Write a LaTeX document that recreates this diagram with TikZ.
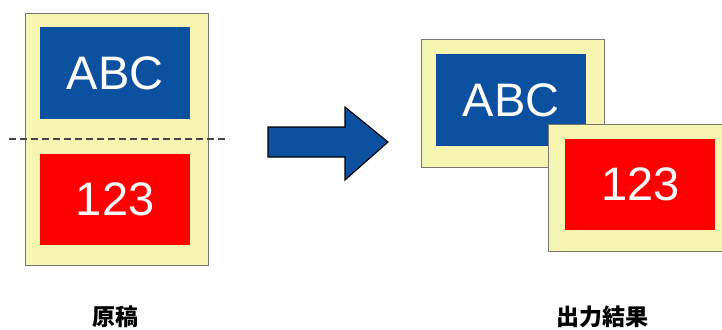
\documentclass[tikz,border=0pt]{standalone}
\usepackage{fontspec}
\setmainfont{Liberation Sans}
\newfontfamily\cjkfont{Noto Sans CJK JP}
\usepackage{tikz}
\usetikzlibrary{arrows.meta, positioning, calc}
\definecolor{pageyellow}{RGB}{246,246,178}
\definecolor{pageedge}{RGB}{120,120,110}
\definecolor{boxblue}{RGB}{12,80,160}
\definecolor{boxred}{RGB}{255,0,0}
\definecolor{cutgray}{RGB}{70,70,70}
\tikzset{
  page/.style={
    rectangle, draw=pageedge, line width=0.9pt, fill=pageyellow,
    anchor=north west, inner sep=0pt
  },
  bluebox/.style={
    rectangle, draw=none, fill=boxblue, text=white, anchor=north west,
    inner sep=0pt, minimum width=150pt, minimum height=92pt,
    font=\fontsize{47}{50}\selectfont
  },
  redbox/.style={
    rectangle, draw=none, fill=boxred, text=white, anchor=north west,
    inner sep=0pt, minimum width=150pt, minimum height=91pt,
    font=\fontsize{47}{50}\selectfont
  },
  caption/.style={
    font=\cjkfont\bfseries\fontsize{23}{26}\selectfont, inner sep=0pt
  },
  bigarrow/.style={draw=black, line width=1.1pt, fill=boxblue, line join=miter},
  cutline/.style={draw=cutgray, line width=1.6pt, dash pattern=on 7pt off 4pt}
}
\begin{document}
\begin{tikzpicture}[x=1pt, y=-1pt]
\useasboundingbox (0,0) rectangle (722,329);
\clip (0,0) rectangle (722,329);

% -------- ORIGINAL (left) --------
\node[page, minimum width=183pt, minimum height=252pt] (orig) at (25,13) {};
\node[bluebox] (origabc) at (40,27) {ABC};
\node[redbox] (orig123) at (40,154) {123};
\coordinate (cutL) at (9,139);
\coordinate (cutR) at (229,139);
\draw[cutline] (cutL) -- (cutR);

% -------- ARROW --------
\draw[bigarrow] (268,127) -- (345,127) -- (345,107) -- (388,142)
  -- (345,180) -- (345,157) -- (268,157) -- cycle;

% -------- OUTPUT (right) --------
\node[page, minimum width=183pt, minimum height=128pt] (outa) at (421,39) {};
\node[bluebox] (outabc) at (436,54) {ABC};
\node[page, minimum width=183pt, minimum height=127pt] (outb) at (548,124) {};
\node[redbox] (out123) at (565,139) {123};

% -------- CAPTIONS --------
\node[caption] (capL) at (115,317) {原稿};
\node[caption] (capR) at (602,317) {出力結果};

\end{tikzpicture}
\end{document}
